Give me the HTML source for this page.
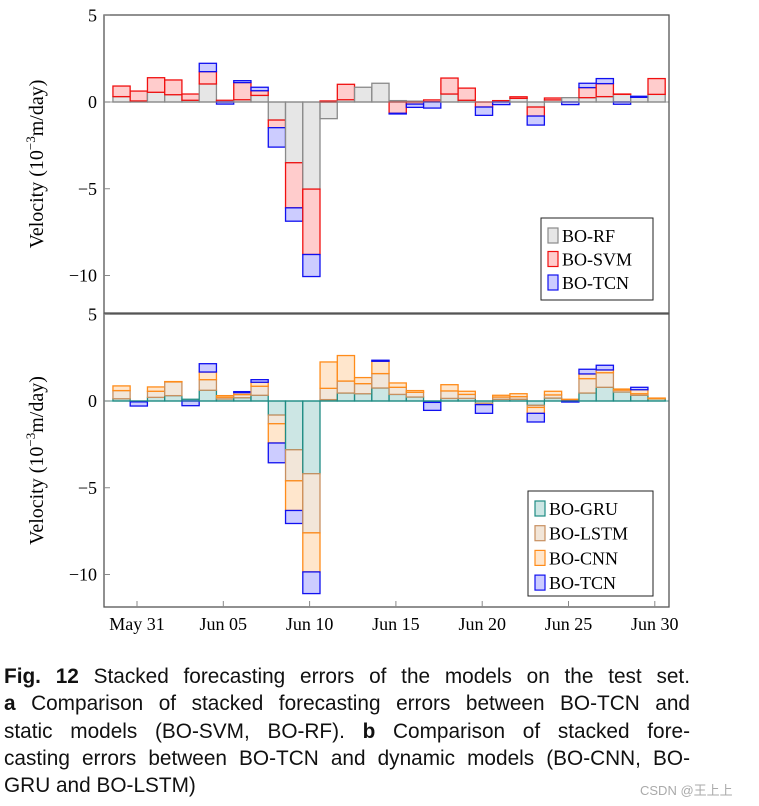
<!DOCTYPE html>
<html><head><meta charset="utf-8">
<style>
body{margin:0;background:#fff;width:759px;height:806px;overflow:hidden;position:relative}
svg{position:absolute;left:0;top:0}
#cap{position:absolute;left:4px;top:663px;width:686px;font-family:"Liberation Sans",sans-serif;font-size:20.8px;line-height:27.3px;color:#111}
#cap div{text-align:justify;text-align-last:justify;white-space:nowrap}
#cap div.last{text-align-last:left}
#wm{position:absolute;left:640px;top:780px;font-family:"Liberation Sans","Noto Sans CJK SC",sans-serif;font-size:13px;color:#aaa}
</style></head><body>
<svg id="chart" width="759" height="650" xmlns="http://www.w3.org/2000/svg"></svg>
<div id="cap">
<div><b>Fig. 12</b> Stacked forecasting errors of the models on the test set.</div>
<div><b>a</b> Comparison of stacked forecasting errors between BO-TCN and</div>
<div>static models (BO-SVM, BO-RF). <b>b</b> Comparison of stacked fore-</div>
<div>casting errors between BO-TCN and dynamic models (BO-CNN, BO-</div>
<div class="last">GRU and BO-LSTM)</div>
</div>
<div id="wm">CSDN @王上上</div>
<script>
const days=["May 30","May 31","Jun 01","Jun 02","Jun 03","Jun 04","Jun 05","Jun 06","Jun 07","Jun 08","Jun 09","Jun 10","Jun 11","Jun 12","Jun 13","Jun 14","Jun 15","Jun 16","Jun 17","Jun 18","Jun 19","Jun 20","Jun 21","Jun 22","Jun 23","Jun 24","Jun 25","Jun 26","Jun 27","Jun 28","Jun 29","Jun 30"];
const xTickLabels=["May 31","Jun 05","Jun 10","Jun 15","Jun 20","Jun 25","Jun 30"];
const xTickIdx=[1,6,11,16,21,26,31];
const yTicks=[5,0,-5,-10];
const rf=[0.31,0.06,0.56,0.42,0.1,1.04,0,0.13,0.38,-1.04,-3.5,-5.02,-0.96,0.13,0.85,1.08,0.08,0.05,0.02,0.46,0.1,0,0,0.21,-0.29,0.12,0.25,0.25,0.31,0.44,0.27,0.44];
const svm=[0.61,0.57,0.84,0.85,0.36,0.71,0.1,0.99,0.27,-0.44,-2.6,-3.77,0.06,0.89,0,0,-0.65,-0.12,0.1,0.92,0.7,-0.29,0.08,0.09,-0.52,0.11,0,0.58,0.75,0.02,0,0.91];
const tcnA=[0,0,0,0,0,0.48,-0.12,0.11,0.2,-1.12,-0.77,-1.27,0,0,0,0,-0.04,-0.19,-0.35,0,0,-0.48,-0.15,0,-0.52,0,-0.15,0.25,0.29,-0.13,0.06,0];
const gru=[0.13,-0.05,0.21,0.31,0.1,0.62,0.12,0.19,0.33,-0.81,-2.81,-4.19,0.08,0.46,0.42,0.75,0.38,0.23,-0.08,0.15,0.15,-0.13,0.1,0.1,-0.25,0.17,0.02,0.46,0.79,0.52,0.33,0.13];
const lstm=[0.47,0,0.35,0.79,0,0.61,0.1,0.18,0.52,-0.5,-1.79,-3.41,0.65,0.69,0.58,0.83,0.41,0.27,0,0.43,0.23,-0.08,0.13,0.15,-0.12,0.18,0.04,0.83,0.84,0.11,0.09,0];
const cnn=[0.27,0,0.25,0.02,0,0.44,0.09,0.11,0.23,-1.11,-1.71,-2.25,1.52,1.47,0.35,0.71,0.25,0.1,0,0.36,0.18,0,0.1,0.17,-0.34,0.21,0.04,0.27,0.16,0.06,0.23,0.04];
const tcnB=[0,-0.24,0,0,-0.27,0.48,0,0.06,0.15,-1.14,-0.75,-1.25,0,0,0,0.06,0,0,-0.46,0,0,-0.5,0,0,-0.5,0,-0.06,0.27,0.27,0,0.14,0];
const NS="http://www.w3.org/2000/svg";
const svg=document.getElementById('chart');
const L=104,R=669,ppu=17.35;
const x=i=>137+(i-1)*17.26;
const barOff=1.8;
function mk(tag,attrs,parent){const e=document.createElementNS(NS,tag);for(const k in attrs)e.setAttribute(k,attrs[k]);(parent||svg).appendChild(e);return e;}
function panel(id,top,bot,zeroY,series,legend){
  const g=mk('g',{});
  
  
  const y=v=>zeroY-v*ppu;
  for(let i=0;i<days.length;i++){
    let pos=0,neg=0;
    series.forEach(s=>{
      const v=s.data[i];if(!v)return;
      let a,b;
      if(v>0){a=pos;b=pos+v;pos=b;}else{a=neg;b=neg+v;neg=b;}
      const r=mk('rect',{x:x(i)+barOff-8.6,y:Math.min(y(a),y(b)),width:17.2,height:Math.abs(y(a)-y(b)),fill:s.fill,stroke:s.stroke,'stroke-width':1.3},g);
      
      
    });
  }
  mk('line',{x1:L,x2:R,y1:zeroY,y2:zeroY,stroke:series[0].stroke,'stroke-width':1.3,opacity:0.7},g);
  const f=mk('rect',{x:L,y:top,width:R-L,height:bot-top,fill:'none',stroke:'#555','stroke-width':1.3},g);
  
  
  yTicks.forEach(t=>{
    mk('line',{x1:L,x2:L+6,y1:y(t),y2:y(t),stroke:'#888'},g);
    const tx=mk('text',{x:97,y:y(t)+6,'text-anchor':'end','font-family':'Liberation Serif, serif','font-size':18},g);
    tx.textContent=t<0?'\u2212'+(-t):String(t);
    
    
  });
  const cy=(top+bot)/2;
  const yl=mk('text',{x:0,y:0,transform:`translate(43,${cy}) rotate(-90)`,'text-anchor':'middle','font-family':'Liberation Serif, serif','font-size':20},g);
  yl.innerHTML='Velocity (10<tspan dy="-8" font-size="13">\u22123</tspan><tspan dy="8">m/day)</tspan>';
  
  
  const lg=mk('g',{},g);
  
  
  mk('rect',{x:legend.x,y:legend.y,width:legend.w,height:legend.h,fill:'#fff',stroke:'#222','stroke-width':1},lg);
  series.forEach((s,k)=>{
    const ey=legend.y+18+k*legend.dy;
    const e=mk('g',{},lg);
    
    
    mk('rect',{x:legend.x+7,y:ey-8,width:10,height:15,fill:s.fill,stroke:s.stroke,'stroke-width':1.2},e);
    const t=mk('text',{x:legend.x+21,y:ey+6,'font-family':'Liberation Serif, serif','font-size':18},e);
    t.textContent=s.label;
  });
  return y;
}
const cG={fill:'#e6e6e6',stroke:'#8a8a8a'},cR={fill:'#ffcccc',stroke:'#f01010'},cB={fill:'#ccccff',stroke:'#1010f0'};
const cT={fill:'#cce6e4',stroke:'#1f8c84'},cL={fill:'#f2e6d9',stroke:'#c89060'},cO={fill:'#ffe6cc',stroke:'#ff8c1a'};
panel('panel-a',15,313,102,[
  {key:'rf',label:'BO-RF',data:rf,...cG},
  {key:'svm',label:'BO-SVM',data:svm,...cR},
  {key:'tcn',label:'BO-TCN',data:tcnA,...cB}],{x:541,y:218,w:112,h:82,dy:23.5});
panel('panel-b',314,607,401,[
  {key:'gru',label:'BO-GRU',data:gru,...cT},
  {key:'lstm',label:'BO-LSTM',data:lstm,...cL},
  {key:'cnn',label:'BO-CNN',data:cnn,...cO},
  {key:'tcn',label:'BO-TCN',data:tcnB,...cB}],{x:528,y:491,w:125,h:105,dy:24.7});
xTickIdx.forEach((d,k)=>{
  mk('line',{x1:x(d),x2:x(d),y1:607,y2:601,stroke:'#888'});
  const t=mk('text',{x:x(d),y:630,'text-anchor':'middle','font-family':'Liberation Serif, serif','font-size':18});
  t.textContent=xTickLabels[k];
  
  
});
</script>
</body></html>
